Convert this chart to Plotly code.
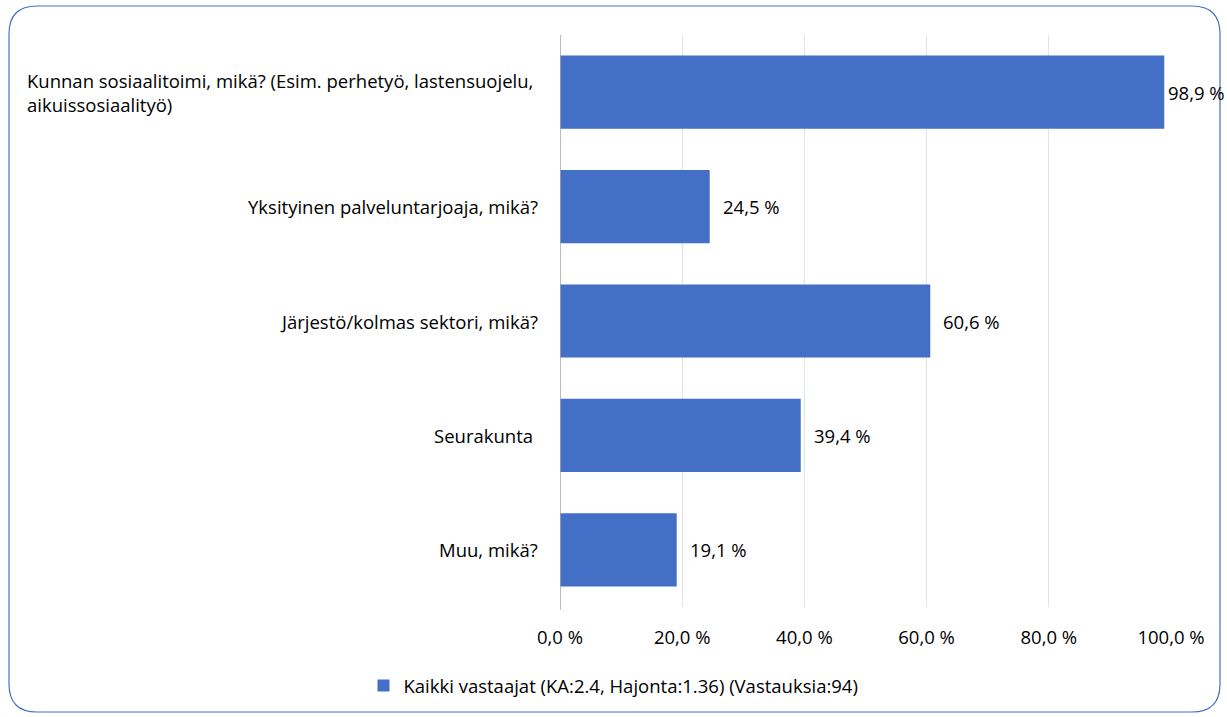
import plotly.graph_objects as go

categories = [
    "Kunnan sosiaalitoimi, mikä? (Esim. perhetyö, lastensuojelu,<br>aikuissosiaalityö)",
    "Yksityinen palveluntarjoaja, mikä?",
    "Järjestö/kolmas sektori, mikä?",
    "Seurakunta ",
    "Muu, mikä?",
]
values = [98.9, 24.5, 60.6, 39.4, 19.1]
value_labels = ["98,9 %", "24,5 %", "60,6 %", "39,4 %", "19,1 %"]
tick_vals = [0, 20, 40, 60, 80, 100]
tick_text = ["0,0 %", "20,0 %", "40,0 %", "60,0 %", "80,0 %", "100,0 %"]
series_name = "Kaikki vastaajat (KA:2.4, Hajonta:1.36) (Vastauksia:94)"

W, H = 1227, 717
L, R, T, B = 560, 56, 35, 110
FONT = "Open Sans"
FS = 18.5

pw = W - L - R
ph = H - T - B
def px(x):
    return (x - L) / pw
def py(y):
    return (H - B - y) / ph

fig = go.Figure()
fig.add_trace(go.Bar(
    y=categories, x=values, orientation="h",
    name=series_name,
    marker=dict(color="#4370C6", line=dict(width=0)),
    width=0.64,
    showlegend=True,
))

# value labels
for c, v, t in zip(categories, values, value_labels):
    fig.add_annotation(x=v, xref="x", y=c, yref="y", text=t, showarrow=False,
                       xanchor="left", xshift=(2 if v > 95 else 11),
                       font=dict(family=FONT, size=FS, color="#000000"))

# category labels
for i, c in enumerate(categories):
    if i == 0:
        fig.add_annotation(x=px(25), xref="paper", y=c, yref="y",
                           text=c, showarrow=False, xanchor="left", align="left",
                           font=dict(family=FONT, size=FS, color="#000000"))
    else:
        fig.add_annotation(x=0, xref="paper", y=c, yref="y", xshift=-20,
                           text=c, showarrow=False, xanchor="right", align="right",
                           font=dict(family=FONT, size=FS, color="#000000"))

x0, x1, y0, y1, r = 9, 1220, 6, 712, 28
path = (f"M {px(x0+r)},{py(y0)} L {px(x1-r)},{py(y0)} "
        f"Q {px(x1)},{py(y0)} {px(x1)},{py(y0+r)} "
        f"L {px(x1)},{py(y1-r)} Q {px(x1)},{py(y1)} {px(x1-r)},{py(y1)} "
        f"L {px(x0+r)},{py(y1)} Q {px(x0)},{py(y1)} {px(x0)},{py(y1-r)} "
        f"L {px(x0)},{py(y0+r)} Q {px(x0)},{py(y0)} {px(x0+r)},{py(y0)} Z")
fig.add_shape(type="path", path=path, xref="paper", yref="paper",
              line=dict(color="#4472C4", width=1.2), layer="below")
fig.add_shape(type="line", xref="x", yref="paper", x0=0, x1=0, y0=-0.005, y1=1,
              line=dict(color="#A6A6A6", width=1.5))

fig.update_layout(
    width=W, height=H,
    margin=dict(l=L, r=R, t=T, b=B),
    paper_bgcolor="white", plot_bgcolor="white",
    font=dict(family=FONT, size=FS, color="#000000"),
    xaxis=dict(range=[0, 100], tickvals=tick_vals, ticktext=tick_text,
               showgrid=True, gridcolor="#DCE4F2", gridwidth=1,
               zeroline=False, showline=False, ticks="",
               ticklabelstandoff=17,
               tickfont=dict(family=FONT, size=FS, color="#000000")),
    yaxis=dict(categoryorder="array", categoryarray=categories[::-1],
               showticklabels=False, showgrid=False, zeroline=False,
               showline=False, ticks=""),
    legend=dict(orientation="h", xref="container", yref="container",
                x=0.5, xanchor="center", y=31 / H, yanchor="middle",
                font=dict(family=FONT, size=FS, color="#000000"),
                itemwidth=30),
)

fig.write_html("out.html", config={"displayModeBar": False},
               post_script="document.body.style.margin='0px';")
